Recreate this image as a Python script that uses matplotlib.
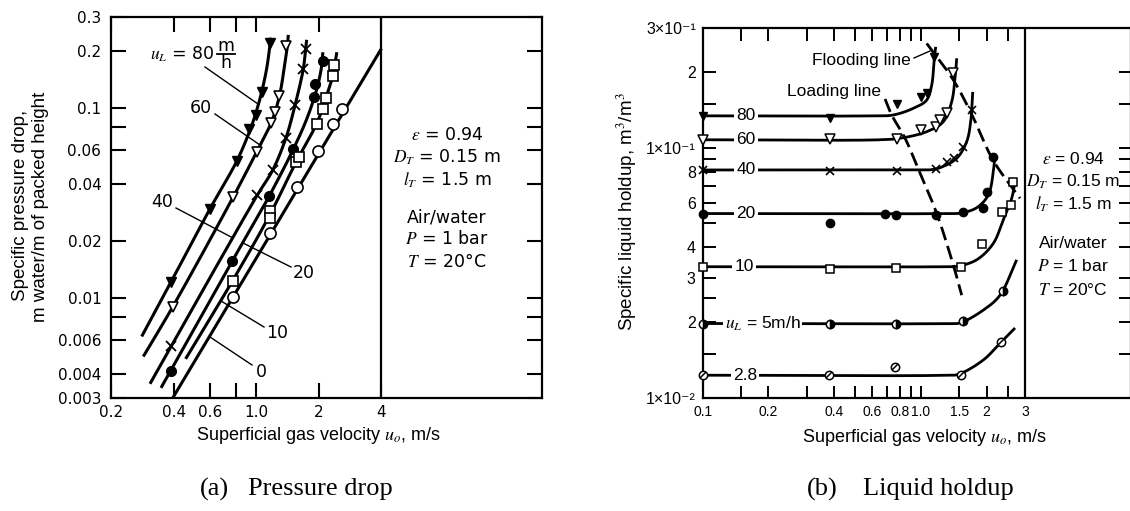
import numpy as np
import matplotlib
matplotlib.use('Agg')
import matplotlib.pyplot as plt
from matplotlib.lines import Line2D
from matplotlib.markers import MarkerStyle
from matplotlib.transforms import Affine2D

plt.rcParams['mathtext.fontset'] = 'stix'
plt.rcParams['font.family'] = ['Liberation Sans', 'DejaVu Sans']

# ---------------- data : (a) pressure drop ----------------
pd_labels = ['80', '60', '40', '20', '10', '0']
# measured points (markers)
pd80_u = [0.389, 0.599, 0.805, 0.925, 0.997, 1.062, 1.164]
pd80_dp = [0.0122, 0.0296, 0.0526, 0.0775, 0.0925, 0.121, 0.219]
pd60_u = [0.396, 0.775, 1.004, 1.177, 1.23, 1.29, 1.389]
pd60_dp = [0.00901, 0.0342, 0.0589, 0.084, 0.0955, 0.1154, 0.212]
pd40_u = [0.389, 1.011, 1.199, 1.389, 1.535, 1.683, 1.728]
pd40_dp = [0.00558, 0.0349, 0.0472, 0.0698, 0.1035, 0.161, 0.2055]
pd20_u = [0.387, 0.766, 1.157, 1.506, 1.894, 1.915, 2.086]
pd20_dp = [0.00417, 0.0157, 0.0347, 0.0608, 0.1148, 0.1335, 0.178]
pd10_u = [0.770, 1.164, 1.164, 1.552, 1.61, 1.952, 2.10, 2.156, 2.33, 2.37]
pd10_dp = [0.0124, 0.0289, 0.0263, 0.0522, 0.0554, 0.083, 0.0995, 0.1137, 0.147, 0.168]
pd0_u = [0.775, 1.164, 1.564, 1.974, 2.346, 2.59]
pd0_dp = [0.0102, 0.022, 0.0383, 0.0596, 0.083, 0.0995]
# curves
cv80_u = [0.281, 0.389, 0.599, 0.805, 0.93, 1.0, 1.062, 1.12, 1.16, 1.17]
cv80_dp = [0.0063, 0.0122, 0.0296, 0.0526, 0.076, 0.096, 0.122, 0.16, 0.21, 0.235]
cv60_u = [0.286, 0.396, 0.775, 1.004, 1.18, 1.29, 1.37, 1.41, 1.425]
cv60_dp = [0.00494, 0.00901, 0.0342, 0.0589, 0.084, 0.115, 0.17, 0.21, 0.243]
cv40_u = [0.308, 0.389, 1.011, 1.199, 1.389, 1.535, 1.683, 1.728, 1.747]
cv40_dp = [0.00355, 0.00558, 0.0349, 0.0472, 0.0698, 0.1035, 0.161, 0.2055, 0.229]
cv20_u = [0.348, 0.766, 1.157, 1.506, 1.75, 1.95, 2.06, 2.09]
cv20_dp = [0.00338, 0.0157, 0.0347, 0.0608, 0.088, 0.125, 0.165, 0.197]
cv10_u = [0.457, 0.770, 1.164, 1.552, 1.952, 2.156, 2.33, 2.44]
cv10_dp = [0.0048, 0.0124, 0.0276, 0.052, 0.083, 0.112, 0.148, 0.197]
cv0_u = [0.397, 4.0]
cv0_dp = [0.003, 0.206]

# ---------------- data : (b) liquid holdup ----------------
hu_labels = ['80', '60', '40', '20', '10', r'$u_L$ = 5m/h', '2.8']
hu80_u = [0.1, 0.383, 0.780, 0.998, 1.07, 1.152]
hu80_h = [0.134, 0.131, 0.1495, 0.160, 0.165, 0.231]
hu60_u = [0.1, 0.383, 0.774, 0.998, 1.173, 1.223, 1.313, 1.408]
hu60_h = [0.107, 0.108, 0.108, 0.1177, 0.1213, 0.129, 0.137, 0.198]
hu40_u = [0.1, 0.383, 0.774, 1.173, 1.321, 1.418, 1.564, 1.709]
hu40_h = [0.0814, 0.081, 0.081, 0.0821, 0.0874, 0.0906, 0.1009, 0.1415]
hu20_u = [0.1, 0.383, 0.685, 0.769, 1.173, 1.555, 1.932, 2.016, 2.134]
hu20_h = [0.0545, 0.0501, 0.0545, 0.054, 0.054, 0.0554, 0.0575, 0.0667, 0.092]
hu10_u = [0.1, 0.383, 0.769, 1.527, 1.899, 2.346, 2.58, 2.652]
hu10_h = [0.0334, 0.0327, 0.0331, 0.0334, 0.0412, 0.0554, 0.059, 0.073]
hu5_u = [0.1, 0.383, 0.769, 1.555, 2.371]
hu5_h = [0.0198, 0.0197, 0.0198, 0.0203, 0.0267]
hu28_u = [0.1, 0.38, 0.761, 1.527, 2.328]
hu28_h = [0.0123, 0.0123, 0.0133, 0.0123, 0.0167]

# curves: flat part (start, end of plateau) then the rising part
hc80_u = [0.1, 0.6, 0.745, 0.923, 1.063, 1.121, 1.152, 1.169]
hc80_h = [0.134, 0.134, 0.135, 0.1436, 0.155, 0.178, 0.2276, 0.253]
hc60_u = [0.1, 0.65, 0.802, 1.063, 1.267, 1.384, 1.433, 1.459]
hc60_h = [0.1075, 0.1075, 0.109, 0.1158, 0.127, 0.1526, 0.189, 0.2276]
hc40_u = [0.1, 0.95, 1.101, 1.223, 1.459, 1.621, 1.691, 1.728]
hc40_h = [0.0814, 0.0814, 0.0815, 0.0831, 0.0906, 0.1056, 0.127, 0.167]
hc20_u = [0.1, 1.35, 1.511, 1.802, 2.037, 2.147, 2.186]
hc20_h = [0.0545, 0.0545, 0.0547, 0.0575, 0.0647, 0.0801, 0.0949]
hc10_u = [0.1, 1.3, 1.459, 1.802, 2.147, 2.385, 2.607, 2.70]
hc10_h = [0.0334, 0.0334, 0.0335, 0.0356, 0.0414, 0.0514, 0.0627, 0.073]
hc5_u = [0.1, 1.35, 1.511, 1.932, 2.304, 2.748]
hc5_h = [0.0198, 0.0198, 0.0199, 0.0224, 0.0257, 0.0356]
hc28_u = [0.1, 1.3, 1.484, 1.932, 2.304, 2.70]
hc28_h = [0.0123, 0.0123, 0.0124, 0.01415, 0.0165, 0.019]

flood_u = [1.063, 1.408, 1.715, 2.14, 2.846]
flood_h = [0.261, 0.1864, 0.135, 0.0892, 0.0627]
load_u = [0.685, 0.735, 0.846, 0.973, 1.181, 1.408, 1.538]
load_h = [0.1565, 0.135, 0.109, 0.0821, 0.0546, 0.0339, 0.0257]

# ---------------- helpers ----------------
W, H = 1130, 511
def fx(px):
    return px / W
def fy(py):
    return 1 - py / H


def smooth(xs, ys, n=40):
    P = np.column_stack([np.log10(xs), np.log10(ys)])
    if len(P) < 3:
        return np.asarray(xs), np.asarray(ys)
    P = np.vstack([2 * P[0] - P[1], P, 2 * P[-1] - P[-2]])
    out = []
    for i in range(1, len(P) - 2):
        p0, p1, p2, p3 = P[i - 1], P[i], P[i + 1], P[i + 2]
        d01 = max(np.linalg.norm(p1 - p0) ** 0.5, 1e-6)
        d12 = max(np.linalg.norm(p2 - p1) ** 0.5, 1e-6)
        d23 = max(np.linalg.norm(p3 - p2) ** 0.5, 1e-6)
        t0, t1 = 0.0, d01
        t2 = t1 + d12
        t3 = t2 + d23
        t = np.linspace(t1, t2, n)[:, None]
        A1 = (t1 - t) / (t1 - t0) * p0 + (t - t0) / (t1 - t0) * p1
        A2 = (t2 - t) / (t2 - t1) * p1 + (t - t1) / (t2 - t1) * p2
        A3 = (t3 - t) / (t3 - t2) * p2 + (t - t2) / (t3 - t2) * p3
        B1 = (t2 - t) / (t2 - t0) * A1 + (t - t0) / (t2 - t0) * A2
        B2 = (t3 - t) / (t3 - t1) * A2 + (t - t1) / (t3 - t1) * A3
        C = (t2 - t) / (t2 - t1) * B1 + (t - t1) / (t2 - t1) * B2
        out.append(C)
    arr = np.vstack(out)
    return 10 ** arr[:, 0], 10 ** arr[:, 1]


def pline(x0, y0, x1, y1, lw=1.0):
    fig.add_artist(Line2D([fx(x0), fx(x1)], [fy(y0), fy(y1)],
                          transform=fig.transFigure, color='k', lw=lw))


fig = plt.figure(figsize=(W / 100, H / 100), dpi=100)
fig.patch.set_facecolor('white')

# ================= (a) =================
axL = fig.add_axes([fx(111), fy(397.7), fx(541.7) - fx(111), fy(17.5) - fy(397.7)])
axL.set_xscale('log')
axL.set_yscale('log')
axL.set_xlim(0.2, 23.6)
axL.set_ylim(0.003, 0.3)

LW_A = 2.2
curvesL = [(cv80_u, cv80_dp), (cv60_u, cv60_dp), (cv40_u, cv40_dp),
           (cv20_u, cv20_dp), (cv10_u, cv10_dp), (cv0_u, cv0_dp)]
for (cu, cd) in curvesL:
    sx, sy = smooth(cu, cd)
    axL.plot(sx, sy, color='k', lw=LW_A, solid_capstyle='butt', zorder=2)

mk = dict(ls='none', color='k', zorder=3, clip_on=False)
axL.plot(pd80_u, pd80_dp, marker='v', ms=7, mfc='k', mec='k', **mk)
axL.plot(pd60_u, pd60_dp, marker='v', ms=7.5, mfc='w', mec='k', mew=1.2, **mk)
axL.plot(pd40_u, pd40_dp, marker='x', ms=6.5, mec='k', mew=1.3, **mk)
axL.plot(pd20_u, pd20_dp, marker='o', ms=7, mfc='k', mec='k', **mk)
axL.plot(pd10_u, pd10_dp, marker='s', ms=7, mfc='w', mec='k', mew=1.2, **mk)
axL.plot(pd0_u, pd0_dp, marker='o', ms=8, mfc='w', mec='k', mew=1.2, **mk)

axL.axvline(4, color='k', lw=1.6)
axL.set_xticks([0.2, 0.4, 0.6, 0.8, 1.0, 2, 4])
axL.set_xticklabels(['0.2', '0.4', '0.6', '', '1.0', '2', '4'])
axL.xaxis.set_minor_locator(matplotlib.ticker.NullLocator())
axL.set_yticks([0.003, 0.004, 0.006, 0.01, 0.02, 0.04, 0.06, 0.1, 0.2, 0.3])
axL.set_yticklabels(['0.003', '0.004', '0.006', '0.01', '0.02', '0.04', '0.06', '0.1', '0.2', '0.3'])
axL.set_yticks([0.008, 0.08], minor=True)
axL.set_yticklabels([], minor=True)
axL.tick_params(which='both', direction='in', length=11, width=1.5,
                top=True, right=True, labelsize=11, pad=7)
axL.tick_params(axis='x', pad=5)
for lab in axL.get_xticklabels() + axL.get_yticklabels():
    lab.set_family('DejaVu Sans')
for s in axL.spines.values():
    s.set_linewidth(1.6)

# labels (a)
TF = dict(ha='center', va='center', fontsize=12.5, family='DejaVu Sans')
fig.text(fx(150), fy(54), r'$u_L$ = 80', ha='left', va='center', fontsize=12.5, family='DejaVu Sans')
fig.text(fx(226), fy(46), 'm', **TF)
fig.text(fx(226), fy(63), 'h', **TF)
pline(217, 54.5, 235, 54.5, lw=1.3)
pline(205, 67, 258, 104)
fig.text(fx(201), fy(108), '60', **TF)
pline(215, 114, 260, 145)
fig.text(fx(162), fy(202), '40', **TF)
pline(176, 208, 233, 238)
fig.text(fx(304), fy(273), '20', **TF)
pline(291, 267, 243, 243)
fig.text(fx(277), fy(333), '10', **TF)
pline(264, 327, 221, 301)
fig.text(fx(261), fy(372), '0', **TF)
pline(252, 365, 210, 337)

for s, y in [(r'$\varepsilon$ = 0.94', 135), (r'$D_T$ = 0.15 m', 157), (r'$l_T$ = 1.5 m', 180),
             ('Air/water', 217), (r'$P$ = 1 bar', 239), (r'$T$ = 20°C', 262)]:
    fig.text(fx(447), fy(y), s, ha='center', va='center', fontsize=12.5, family='DejaVu Sans')

fig.text(fx(21), fy(205), 'Specific pressure drop,', rotation=90, ha='center', va='center', fontsize=13.5)
fig.text(fx(41), fy(207), 'm water/m of packed height', rotation=90, ha='center', va='center', fontsize=13.5)
fig.text(fx(318), fy(436), r'Superficial gas velocity $u_o$, m/s', ha='center', va='center', fontsize=13)

# ================= (b) =================
axR = fig.add_axes([fx(702.7), fy(397.7), fx(1131) - fx(702.7), fy(28.3) - fy(397.7)])
axR.set_xscale('log')
axR.set_yscale('log')
axR.set_xlim(0.1, 9.18)
axR.set_ylim(0.01, 0.3)

LW_B = 2.0
curvesR = [(hc80_u, hc80_h), (hc60_u, hc60_h), (hc40_u, hc40_h), (hc20_u, hc20_h),
           (hc10_u, hc10_h), (hc5_u, hc5_h), (hc28_u, hc28_h)]
for (cu, ch) in curvesR:
    sx, sy = smooth(cu, ch)
    axR.plot(sx, sy, color='k', lw=LW_B, solid_capstyle='butt', zorder=2)

sx, sy = smooth(flood_u, flood_h)
axR.plot(sx, sy, color='k', lw=2.0, ls=(0, (5, 2.2)), zorder=2)
sx, sy = smooth(load_u, load_h)
axR.plot(sx, sy, color='k', lw=2.0, ls=(0, (5, 2.2)), zorder=2)

axR.plot(hu80_u, hu80_h, marker='v', ms=6, mfc='k', mec='k', **mk)
axR.plot(hu60_u, hu60_h, marker='v', ms=6.5, mfc='w', mec='k', mew=1.1, **mk)
axR.plot(hu40_u, hu40_h, marker='x', ms=5.5, mec='k', mew=1.2, **mk)
axR.plot(hu20_u, hu20_h, marker='o', ms=6, mfc='k', mec='k', **mk)
axR.plot(hu10_u, hu10_h, marker='s', ms=6, mfc='w', mec='k', mew=1.1, **mk)
axR.plot(hu5_u, hu5_h, marker='o', ms=6, mfc='k', mfcalt='w', fillstyle='right', mec='k', mew=1.1, **mk)
axR.plot(hu28_u, hu28_h, marker='o', ms=6, mfc='w', mec='k', mew=1.1, **mk)
axR.plot(hu28_u, hu28_h, marker=MarkerStyle('|', transform=Affine2D().rotate_deg(-45)),
         ms=5.5, mec='k', mew=1.1, ls='none', zorder=4, clip_on=False)

axR.axvline(3, color='k', lw=1.6)
xt = [0.1, 0.15, 0.2, 0.3, 0.4, 0.5, 0.6, 0.7, 0.8, 0.9, 1.0, 1.5, 2, 2.5, 3]
xl = ['0.1', '', '0.2', '', '0.4', '', '0.6', '', '0.8', '', '1.0', '1.5', '2', '', '3']
axR.set_xticks(xt)
axR.set_xticklabels(xl)
axR.xaxis.set_minor_locator(matplotlib.ticker.NullLocator())
yt = [0.01, 0.015, 0.02, 0.025, 0.03, 0.04, 0.05, 0.06, 0.07, 0.08, 0.09, 0.1, 0.15, 0.2, 0.3]
yl = ['1×10⁻²', '', '2', '', '3', '4', '', '6', '', '8', '', '1×10⁻¹', '', '2', '3×10⁻¹']
axR.set_yticks(yt)
axR.set_yticklabels(yl)
axR.yaxis.set_minor_locator(matplotlib.ticker.NullLocator())
axR.tick_params(which='both', direction='in', length=9, width=1.4,
                top=True, right=True, labelsize=11.5, pad=5)
axR.tick_params(axis='x', labelsize=10, pad=5)
for s in axR.spines.values():
    s.set_linewidth(1.6)

bb = dict(boxstyle='square,pad=0.12', fc='white', ec='none')
lab_u = [0.158, 0.158, 0.158, 0.158, 0.155, 0.188, 0.156]
lab_h = [hc80_h[0], hc60_h[0], hc40_h[0], hc20_h[0], hc10_h[0], hc5_h[0], hc28_h[0]]
for txt, u, h in zip(hu_labels, lab_u, lab_h):
    axR.text(u, h, txt, ha='center', va='center', fontsize=12.5, bbox=bb, zorder=5)

fig.text(fx(861), fy(60), 'Flooding line', ha='center', va='center', fontsize=12.5)
pline(914, 58, 930, 51, lw=1.0)
fig.text(fx(834), fy(91), 'Loading line', ha='center', va='center', fontsize=12.5)

for s, y in [(r'$\varepsilon$ = 0.94', 159), (r'$D_T$ = 0.15 m', 182), (r'$l_T$ = 1.5 m', 204),
             ('Air/water', 243), (r'$P$ = 1 bar', 266), (r'$T$ = 20°C', 290)]:
    fig.text(fx(1073), fy(y), s, ha='center', va='center', fontsize=12.5)

fig.text(fx(627), fy(212), r'Specific liquid holdup, m$^3$/m$^3$', rotation=90,
         ha='center', va='center', fontsize=13.5)
fig.text(fx(924), fy(438), r'Superficial gas velocity $u_o$, m/s', ha='center', va='center', fontsize=13)

# captions
fig.text(fx(200), fy(489), '(a)', ha='left', va='center', fontsize=19, family='Liberation Serif')
fig.text(fx(248), fy(489), 'Pressure drop', ha='left', va='center', fontsize=19, family='Liberation Serif')
fig.text(fx(807), fy(489), '(b)', ha='left', va='center', fontsize=19, family='Liberation Serif')
fig.text(fx(863), fy(489), 'Liquid holdup', ha='left', va='center', fontsize=19, family='Liberation Serif')

fig.savefig('out.png', dpi=100, facecolor='white')
